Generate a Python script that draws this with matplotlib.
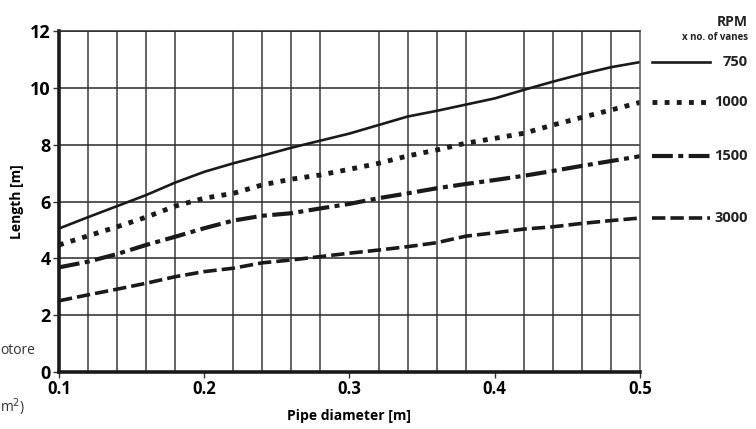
import matplotlib
matplotlib.use('Agg')
import matplotlib.pyplot as plt

# pipe diameter [m]
diameter = [0.10, 0.12, 0.14, 0.16, 0.18, 0.20, 0.22, 0.24, 0.26, 0.28, 0.30,
            0.32, 0.34, 0.36, 0.38, 0.40, 0.42, 0.44, 0.46, 0.48, 0.50]

# length [m] for each RPM x no. of vanes
len_750 = [5.05, 5.45, 5.84, 6.23, 6.67, 7.05, 7.35, 7.62, 7.90, 8.15, 8.40,
           8.70, 9.00, 9.20, 9.42, 9.64, 9.94, 10.23, 10.50, 10.74, 10.92]
len_1000 = [4.47, 4.79, 5.11, 5.45, 5.84, 6.12, 6.29, 6.59, 6.79, 6.94, 7.14,
            7.35, 7.61, 7.82, 8.06, 8.23, 8.41, 8.70, 8.97, 9.23, 9.50]
len_1500 = [3.68, 3.88, 4.15, 4.47, 4.76, 5.06, 5.33, 5.50, 5.59, 5.76, 5.92,
            6.12, 6.29, 6.47, 6.62, 6.76, 6.91, 7.08, 7.26, 7.43, 7.60]
len_3000 = [2.50, 2.71, 2.91, 3.12, 3.35, 3.53, 3.65, 3.84, 3.94, 4.06, 4.18,
            4.29, 4.41, 4.55, 4.78, 4.90, 5.03, 5.11, 5.23, 5.33, 5.42]

rpm_labels = ['750', '1000', '1500', '3000']
x_ticks = [0.1, 0.2, 0.3, 0.4, 0.5]
y_ticks = [0, 2, 4, 6, 8, 10, 12]

plt.rcParams['font.family'] = ['Open Sans', 'DejaVu Sans']


def main():
    fig = plt.figure(figsize=(7.56, 4.29), dpi=100)
    ax = fig.add_axes([0.078, 0.1336, 0.7686, 0.793])

    dark = '#1a1a1a'
    styles = [
        dict(lw=1.9, linestyle='-'),
        dict(lw=3.5, dashes=(1, 1.5)),
        dict(lw=3.0, dashes=(5, 1.3, 1.2, 1.3)),
        dict(lw=2.6, dashes=(3.7, 1.4)),
    ]
    series = [len_750, len_1000, len_1500, len_3000]

    for vals, st in zip(series, styles):
        ax.plot(diameter, vals, color=dark, solid_capstyle='butt', **st)

    ax.set_xlim(0.1, 0.5)
    ax.set_ylim(0, 12)
    ax.set_xticks(x_ticks)
    ax.set_xticklabels([f'{t:.1f}' for t in x_ticks], fontsize=12, fontweight='bold')
    ax.set_yticks(y_ticks)
    ax.set_yticklabels([str(t) for t in y_ticks], fontsize=13, fontweight='bold')
    ax.set_xticks([0.1 + 0.02 * i for i in range(21)], minor=True)
    ax.tick_params(which='minor', length=0)
    ax.tick_params(which='major', length=4, width=1, color='#333333', pad=2)

    ax.grid(which='minor', axis='x', color='#3a3a3a', lw=1.1)
    ax.grid(which='major', axis='y', color='#2a2a2a', lw=1.1)
    ax.set_axisbelow(True)

    for side in ['left', 'bottom']:
        ax.spines[side].set_linewidth(2.6)
        ax.spines[side].set_color(dark)
    ax.spines['top'].set_linewidth(1.1)
    ax.spines['top'].set_color('#2a2a2a')
    ax.spines['right'].set_linewidth(1.1)
    ax.spines['right'].set_color('#555555')

    ax.set_xlabel('Pipe diameter [m]', fontsize=10, fontweight='bold', labelpad=8)
    ax.set_ylabel('Length [m]', fontsize=10, fontweight='bold', labelpad=4)

    # legend drawn beside the line ends
    for vals, st, lab in zip(series, styles, rpm_labels):
        ax.plot([0.508, 0.548], [vals[-1], vals[-1]], color=dark, clip_on=False, **st)
        ax.text(0.5743, vals[-1], lab, ha='right', va='center', fontsize=10.5,
                fontweight='bold', color='#222222', clip_on=False)

    fig.text(748 / 756, 1 - 22 / 429, 'RPM', ha='right', va='center',
             fontsize=10, fontweight='bold', color='#222222')
    fig.text(748 / 756, 1 - 37 / 429, 'x no. of vanes', ha='right', va='center',
             fontsize=7, fontweight='bold', color='#222222')

    # cut-off text at the left edge
    fig.text(0.0, 1 - 350 / 429, 'otore', ha='left', va='center', fontsize=10, color='#333333')
    fig.text(0.0, 1 - 407 / 429, 'm$^2$)', ha='left', va='center', fontsize=10, color='#333333')

    fig.savefig('out.png', dpi=100)


if __name__ == '__main__':
    main()
